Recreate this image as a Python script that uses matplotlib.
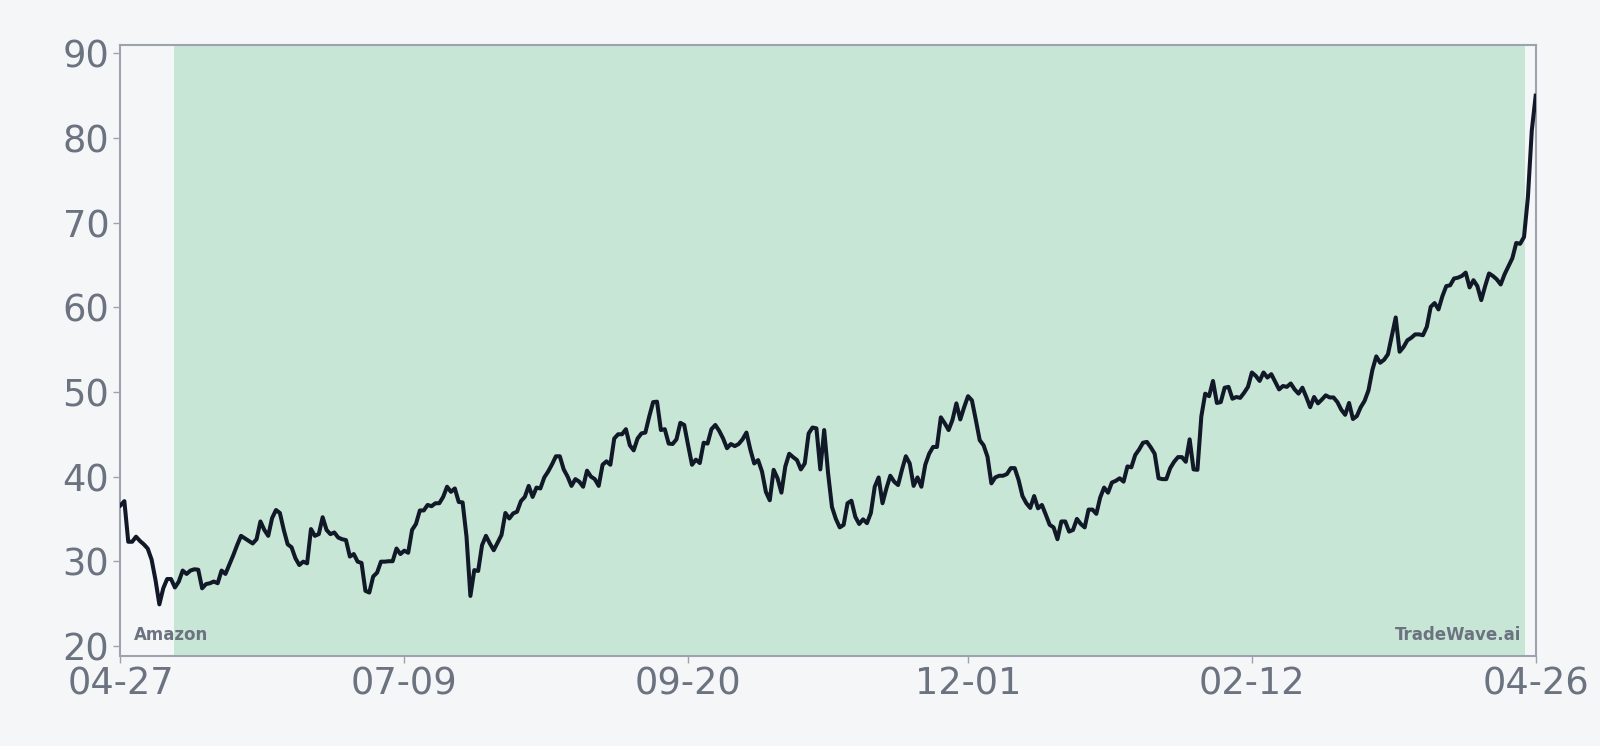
import matplotlib
matplotlib.use('Agg')
import matplotlib.pyplot as plt
import pandas as pd
import numpy as np

# daily closing values, 2024-04-27 .. 2025-04-26
start_date = '2024-04-27'
prices = [
    36.6, 37.1, 32.3, 32.3, 32.9, 32.4, 32.0, 31.5, 30.2, 27.8,
    24.9, 26.8, 27.9, 27.9, 26.9, 27.6, 28.9, 28.5, 28.9, 29.05,
    29.0, 26.8, 27.3, 27.4, 27.6, 27.4, 28.9, 28.5, 29.6, 30.7,
    31.9, 33.0, 32.7, 32.4, 32.1, 32.6, 34.7, 33.7, 33.0, 35.1,
    36.05, 35.7, 33.7, 32.0, 31.65, 30.35, 29.55, 29.95, 29.75, 33.8,
    33.0, 33.2, 35.2, 33.7, 33.2, 33.4, 32.8, 32.6, 32.5, 30.55,
    30.85, 29.95, 29.8, 26.5, 26.3, 28.2, 28.65, 29.95, 29.95, 30.0,
    30.0, 31.5, 30.85, 31.25, 31.0, 33.7, 34.4, 36.0, 36.0, 36.65,
    36.5, 36.85, 36.85, 37.6, 38.8, 38.2, 38.6, 37.0, 36.95, 32.9,
    25.9, 28.95, 28.85, 31.9, 33.0, 32.1, 31.3, 32.2, 33.1, 35.7,
    35.05, 35.65, 35.85, 37.1, 37.6, 38.9, 37.6, 38.7, 38.6, 39.9,
    40.6, 41.45, 42.4, 42.4, 40.85, 40.0, 38.9, 39.7, 39.4, 38.8,
    40.7, 40.0, 39.7, 38.9, 41.4, 41.8, 41.4, 44.5, 45.0, 45.0,
    45.6, 43.7, 43.1, 44.5, 45.1, 45.2, 47.1, 48.8, 48.85, 45.5,
    45.6, 43.9, 43.85, 44.4, 46.35, 46.1, 43.7, 41.4, 42.0, 41.6,
    44.0, 43.9, 45.6, 46.1, 45.4, 44.5, 43.35, 43.85, 43.6, 43.85,
    44.4, 45.2, 43.2, 41.55, 41.95, 40.6, 38.2, 37.2, 40.8, 39.8,
    38.1, 41.2, 42.7, 42.3, 41.95, 40.85, 41.55, 45.1, 45.8, 45.7,
    40.85, 45.5, 40.4, 36.4, 35.0, 34.0, 34.3, 36.85, 37.15, 35.25,
    34.4, 34.95, 34.5, 35.7, 38.8, 39.9, 36.85, 38.6, 40.1, 39.4,
    39.0, 40.8, 42.4, 41.55, 38.9, 39.9, 38.8, 41.4, 42.7, 43.5,
    43.5, 47.0, 46.3, 45.5, 46.7, 48.65, 46.75, 48.2, 49.5, 49.0,
    46.7, 44.3, 43.7, 42.35, 39.2, 39.9, 40.1, 40.1, 40.3, 41.0,
    41.0, 39.6, 37.7, 36.85, 36.3, 37.7, 36.25, 36.65, 35.5, 34.3,
    34.0, 32.6, 34.7, 34.7, 33.5, 33.7, 35.0, 34.4, 34.0, 36.1,
    36.1, 35.6, 37.55, 38.7, 38.1, 39.3, 39.5, 39.8, 39.4, 41.2,
    41.1, 42.55, 43.2, 44.0, 44.1, 43.45, 42.7, 39.8, 39.7, 39.7,
    41.0, 41.75, 42.3, 42.3, 41.75, 44.4, 40.85, 40.8, 47.1, 49.8,
    49.5, 51.3, 48.7, 48.8, 50.5, 50.6, 49.2, 49.4, 49.3, 49.9,
    50.6, 52.3, 51.9, 51.3, 52.3, 51.7, 52.1, 51.2, 50.3, 50.7,
    50.6, 51.0, 50.3, 49.8, 50.5, 49.4, 48.2, 49.4, 48.65, 49.1,
    49.6, 49.35, 49.35, 48.8, 47.9, 47.3, 48.7, 46.8, 47.15, 48.2,
    48.95, 50.2, 52.6, 54.2, 53.45, 53.8, 54.45, 56.6, 58.8, 54.75,
    55.3, 56.1, 56.4, 56.8, 56.8, 56.7, 57.7, 60.05, 60.5, 59.75,
    61.3, 62.5, 62.6, 63.4, 63.5, 63.7, 64.1, 62.35, 63.2, 62.5,
    60.85, 62.5, 64.0, 63.7, 63.3, 62.7, 63.9, 64.85, 65.8, 67.6,
    67.5, 68.3, 73.0, 80.9, 85.0,
]
highlight_start = '2024-05-10 18:00'
highlight_end = '2025-04-23 06:00'
yticks = [20, 30, 40, 50, 60, 70, 80, 90]

dates = pd.date_range(start_date, periods=len(prices), freq='D')

bg = '#f5f6f8'
grey = '#6b7280'
spine = '#9ca3af'

fig = plt.figure(figsize=(16, 7.46), dpi=100, facecolor=bg)
ax = fig.add_axes([0.0753, 0.1206, 0.8845, 0.8192])
ax.set_facecolor(bg)

ax.axvspan(pd.Timestamp(highlight_start), pd.Timestamp(highlight_end),
           color='#c8e6d5', zorder=0, lw=0)
ax.plot(dates, prices, color='#111827', lw=2.9, zorder=3)

ax.set_xlim(dates[0], dates[-1])
ax.set_ylim(18.8, 91)

# six evenly spaced date ticks
offs = np.round(np.linspace(0, len(dates) - 1, 6)).astype(int)
tick_dates = dates[offs]
ax.set_xticks(tick_dates)
ax.set_xticklabels([d.strftime('%m-%d') for d in tick_dates])
ax.set_yticks(yticks)

ax.tick_params(axis='both', labelsize=26.5, labelcolor=grey, color=spine,
               length=5, width=1)
ax.tick_params(axis='x', pad=2)
ax.tick_params(axis='y', pad=3)
for s in ax.spines.values():
    s.set_color(spine)
    s.set_linewidth(1.5)

ax.text(0.0095, 0.02, 'Amazon', transform=ax.transAxes, fontsize=12,
        fontweight='bold', color=grey, ha='left', va='bottom', zorder=4)
ax.text(0.99, 0.02, 'TradeWave.ai', transform=ax.transAxes, fontsize=12,
        fontweight='bold', color=grey, ha='right', va='bottom', zorder=4)

fig.savefig('out.png', dpi=100, facecolor=bg)
